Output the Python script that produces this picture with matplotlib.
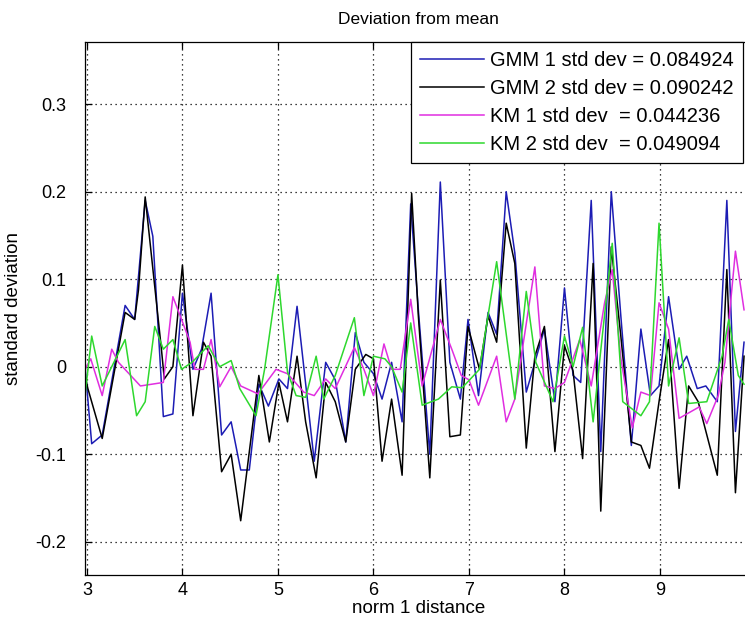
import matplotlib
matplotlib.use("Agg")
import matplotlib.pyplot as plt
from matplotlib.ticker import FuncFormatter

plt.rcParams['font.family'] = ['Liberation Sans', 'DejaVu Sans']

# GMM 1
gmm1_x = [2.98, 3.05, 3.16, 3.40, 3.50, 3.61, 3.69, 3.80, 3.90, 4.00, 4.11, 4.20,
          4.30, 4.41, 4.51, 4.61, 4.70, 4.80, 4.90, 5.01, 5.10, 5.20, 5.38, 5.50,
          5.60, 5.71, 5.81, 5.90, 6.00, 6.09, 6.19, 6.30, 6.39, 6.47, 6.59, 6.70,
          6.80, 6.91, 6.99, 7.10, 7.20, 7.29, 7.39, 7.48, 7.60, 7.69, 7.79, 7.90,
          8.00, 8.09, 8.17, 8.28, 8.38, 8.49, 8.59, 8.70, 8.80, 8.90, 8.99, 9.09,
          9.20, 9.28, 9.39, 9.48, 9.60, 9.70, 9.79, 9.88]
gmm1_y = [0.000, -0.088, -0.078, 0.070, 0.054, 0.190, 0.149, -0.057, -0.054, 0.084,
          -0.003, 0.020, 0.084, -0.078, -0.063, -0.118, -0.118, -0.020, -0.045, -0.014,
          -0.025, 0.069, -0.108, 0.005, -0.015, -0.086, 0.039, 0.005, -0.008, -0.037,
          0.005, -0.063, 0.186, 0.065, -0.100, 0.211, 0.005, -0.037, 0.054, -0.033,
          0.062, 0.037, 0.200, 0.130, -0.029, 0.005, 0.043, -0.040, 0.090, -0.010,
          -0.018, 0.190, -0.097, 0.200, 0.058, -0.090, 0.043, -0.033, -0.022, 0.080,
          -0.003, 0.012, -0.025, -0.022, -0.040, 0.190, -0.074, 0.028]

# GMM 2
gmm2_x = [2.98, 3.01, 3.16, 3.40, 3.50, 3.54, 3.61, 3.78, 3.81, 3.90, 4.00, 4.11,
          4.22, 4.30, 4.41, 4.51, 4.61, 4.80, 4.91, 5.01, 5.10, 5.20, 5.29, 5.40,
          5.50, 5.60, 5.71, 5.81, 5.92, 6.00, 6.09, 6.19, 6.30, 6.40, 6.47, 6.59,
          6.70, 6.80, 6.91, 6.99, 7.11, 7.20, 7.29, 7.39, 7.48, 7.60, 7.69, 7.79,
          7.90, 8.00, 8.09, 8.19, 8.30, 8.38, 8.49, 8.59, 8.70, 8.80, 8.89, 8.99,
          9.09, 9.20, 9.30, 9.40, 9.60, 9.70, 9.79, 9.88]
gmm2_y = [-0.010, -0.025, -0.082, 0.062, 0.054, 0.088, 0.194, 0.020, -0.014, 0.000,
          0.116, -0.056, 0.028, 0.012, -0.120, -0.100, -0.176, -0.010, -0.086, -0.018,
          -0.063, 0.012, -0.063, -0.127, -0.018, -0.040, -0.086, -0.003, 0.014, 0.009,
          -0.108, -0.037, -0.124, 0.198, 0.058, -0.127, 0.099, -0.080, -0.078, 0.046,
          -0.003, 0.058, 0.028, 0.164, 0.118, -0.093, 0.012, 0.046, -0.097, 0.024,
          -0.005, -0.105, 0.118, -0.165, 0.137, 0.035, -0.086, -0.090, -0.116, -0.040,
          0.031, -0.139, -0.022, -0.040, -0.124, 0.111, -0.144, 0.012]

# KM 1
km1_x = [2.98, 3.04, 3.16, 3.26, 3.33, 3.56, 3.80, 3.90, 3.97, 4.08, 4.13, 4.22,
         4.30, 4.39, 4.51, 4.61, 4.79, 4.98, 5.10, 5.27, 5.38, 5.50, 5.60, 5.80,
         5.90, 6.00, 6.11, 6.19, 6.28, 6.39, 6.51, 6.70, 6.82, 6.92, 7.00, 7.10,
         7.29, 7.39, 7.48, 7.69, 7.79, 7.90, 8.00, 8.16, 8.28, 8.42, 8.50, 8.59,
         8.71, 8.80, 8.90, 8.99, 9.09, 9.20, 9.41, 9.49, 9.61, 9.68, 9.79, 9.88]
km1_y = [-0.003, 0.009, -0.033, 0.020, 0.005, -0.022, -0.018, 0.080, 0.060, 0.028,
         -0.003, -0.003, 0.031, -0.023, 0.000, -0.022, -0.031, -0.003, -0.008, -0.029,
         -0.033, -0.014, -0.025, 0.022, -0.003, -0.033, 0.026, -0.003, -0.003, 0.077,
         -0.022, 0.054, 0.020, -0.010, -0.015, -0.044, 0.012, -0.063, -0.037, 0.114,
         -0.022, -0.025, -0.018, 0.031, -0.022, 0.073, 0.111, 0.010, -0.070, -0.029,
         -0.033, 0.073, 0.043, -0.059, -0.046, -0.065, -0.033, 0.005, 0.132, 0.065]

# KM 2
km2_x = [2.98, 3.05, 3.16, 3.40, 3.52, 3.61, 3.71, 3.80, 3.90, 3.99, 4.10, 4.27,
         4.39, 4.51, 4.60, 4.77, 4.86, 5.00, 5.10, 5.19, 5.29, 5.40, 5.48, 5.60,
         5.80, 5.90, 6.00, 6.12, 6.19, 6.30, 6.39, 6.51, 6.68, 6.82, 6.93, 7.11,
         7.29, 7.48, 7.60, 7.70, 7.88, 8.00, 8.09, 8.19, 8.30, 8.50, 8.61, 8.80,
         8.89, 8.99, 9.09, 9.20, 9.30, 9.49, 9.65, 9.72, 9.82, 9.88]
km2_y = [-0.033, 0.035, -0.022, 0.031, -0.056, -0.040, 0.046, 0.020, 0.031, -0.003,
         0.005, 0.024, 0.000, 0.007, -0.025, -0.056, -0.003, 0.105, -0.006, -0.033,
         -0.035, 0.012, -0.037, -0.010, 0.056, -0.033, 0.012, 0.009, 0.000, -0.029,
         0.050, -0.044, -0.037, -0.023, -0.024, -0.003, 0.120, -0.037, 0.086, 0.005,
         -0.040, 0.035, 0.000, 0.045, -0.063, 0.141, -0.040, -0.056, -0.040, 0.164,
         -0.022, 0.033, -0.042, -0.040, 0.012, 0.054, -0.010, -0.020]

labels = ['GMM 1 std dev = 0.084924', 'GMM 2 std dev = 0.090242',
          'KM 1 std dev  = 0.044236', 'KM 2 std dev  = 0.049094']
colors = ['#1c1cb4', 'black', '#e02ee0', '#2ed82e']

fig = plt.figure(figsize=(7.45, 6.25), dpi=100)
ax = fig.add_axes([0.1136, 0.08, 0.896, 0.8528])

series = [(gmm1_x, gmm1_y), (gmm2_x, gmm2_y), (km1_x, km1_y), (km2_x, km2_y)]
for (xs, ys), lab, col in zip(series, labels, colors):
    ax.plot(xs, ys, color=col, lw=1.1, label=lab)

ax.set_xlim(2.976, 9.965)
ax.set_ylim(-0.238, 0.371)
ax.set_xticks(range(3, 10))
ax.set_yticks([-0.2, -0.1, 0, 0.1, 0.2, 0.3])
ax.yaxis.set_major_formatter(FuncFormatter(lambda v, p: f"{v:g}"))
ax.grid(True, color='black', linestyle=(0, (1, 3)), lw=0.9)
ax.tick_params(direction='in', length=5, width=0.9, top=True, right=True,
               labelsize=13)
ax.tick_params(axis='x', pad=5)
ax.tick_params(axis='y', pad=13)
for s in ax.spines.values():
    s.set_linewidth(0.9)

ax.set_title('Deviation from mean', fontsize=12.5, pad=13)
ax.set_xlabel('norm 1 distance', fontsize=13.5, labelpad=1)
ax.set_ylabel('standard deviation', fontsize=13.5, labelpad=10)

leg = ax.legend(loc='upper right', bbox_to_anchor=(0.9865, 1.0), borderaxespad=0,
                fontsize=14.5, fancybox=False, framealpha=1, edgecolor='black',
                handlelength=3.2, handletextpad=0.3, borderpad=0.45, labelspacing=0.45)
leg.get_frame().set_linewidth(0.9)

fig.savefig('out.png', dpi=100)
